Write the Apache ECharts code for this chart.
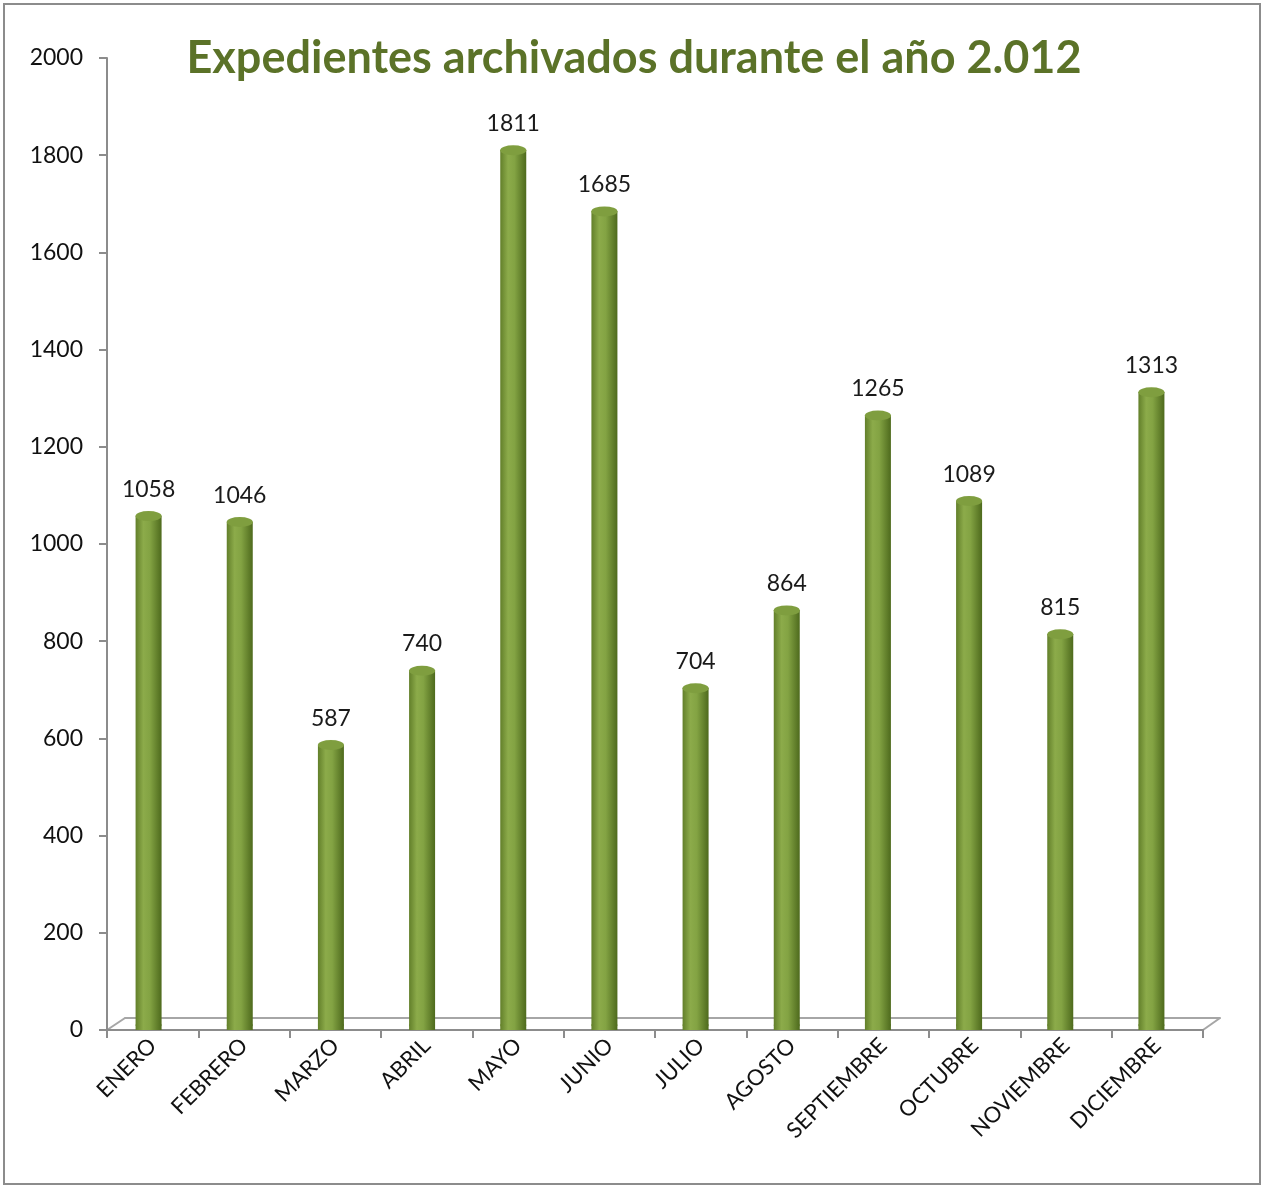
<!DOCTYPE html>
<html>
<head>
<meta charset="utf-8">
<script src="https://cdn.jsdelivr.net/npm/echarts@6/dist/echarts.min.js"></script>
<style>
html,body{margin:0;padding:0;background:#fff;}
#wrap{position:absolute;left:3px;top:3px;width:1254px;height:1178px;border:2px solid #8c8c8c;}
#chart{position:absolute;left:0;top:0;width:1268px;height:1186px;}
</style>
</head>
<body>
<div id="wrap"></div>
<div id="chart"></div>
<script>
const categories = ['ENERO','FEBRERO','MARZO','ABRIL','MAYO','JUNIO','JULIO','AGOSTO','SEPTIEMBRE','OCTUBRE','NOVIEMBRE','DICIEMBRE'];
const values = [1058,1046,587,740,1811,1685,704,864,1265,1089,815,1313];
const titleText = 'Expedientes archivados durante el año 2.012';

const chart = echarts.init(document.getElementById('chart'));
const font = 'Lato, "Open Sans", sans-serif';
const barGrad = new echarts.graphic.LinearGradient(0,0,1,0,[
  {offset:0,color:'#627f2a'},
  {offset:0.3,color:'#8cab4a'},
  {offset:0.55,color:'#83a343'},
  {offset:1,color:'#4e6a1d'}
]);
chart.setOption({
  animation:false,
  backgroundColor:'transparent',
  title:{text:titleText,left:'center',top:31,
    textStyle:{fontFamily:font,fontWeight:'bold',fontSize:45,color:'#5b7228'}},
  grid:[
    {left:107,right:65,top:58,bottom:156},
    {left:125,right:48,top:46,bottom:168},
    {left:103,right:71,top:58,bottom:156}
  ],
  xAxis:[
    {type:'category',data:categories,gridIndex:0,
     axisLine:{lineStyle:{color:'#8c8c8c',width:2}},
     axisTick:{show:true,alignWithLabel:false,length:8,lineStyle:{color:'#8c8c8c',width:2}},
     axisLabel:{rotate:45,interval:0,fontFamily:font,fontSize:22,color:'#111',margin:12}},
    {type:'category',data:categories,gridIndex:1,
     axisLine:{lineStyle:{color:'#a6a6a6',width:2}},
     axisTick:{show:false},axisLabel:{show:false}},
    {type:'category',data:categories,gridIndex:2,show:false}
  ],
  yAxis:[
    {type:'value',min:0,max:2000,interval:200,gridIndex:0,
     axisLine:{show:true,lineStyle:{color:'#8c8c8c',width:2}},
     axisTick:{show:true,length:8,lineStyle:{color:'#8c8c8c',width:2}},
     splitLine:{show:false},
     axisLabel:{fontFamily:font,fontSize:23,color:'#111',margin:24,formatter:v=>String(v)}},
    {type:'value',min:0,max:2000,gridIndex:1,show:false},
    {type:'value',min:0,max:2000,gridIndex:2,show:false}
  ],
  series:[
    {type:'bar',data:values,barWidth:26,xAxisIndex:2,yAxisIndex:2,
     itemStyle:{color:barGrad},
     label:{show:true,position:'top',distance:15,fontFamily:font,fontSize:23,color:'#1a1a1a'},
     z:2},
    {type:'pictorialBar',data:values,symbol:'circle',symbolSize:[26,10],symbolPosition:'end',
     symbolOffset:[0,'-50%'],xAxisIndex:2,yAxisIndex:2,
     itemStyle:{color:'#7f9e3f',borderColor:'#9dbb5c',borderWidth:1},z:3},
    {type:'pictorialBar',data:values,symbol:'circle',symbolSize:[26,8],symbolPosition:'start',
     symbolOffset:[0,'-10%'],xAxisIndex:2,yAxisIndex:2,
     itemStyle:{color:'#6a8a2e'},z:1}
  ]
});

// floor side edges joining the front and back axis lines
const n = categories.length;
function edges(ax){
  const a = chart.convertToPixel({xAxisIndex:ax,yAxisIndex:ax},[0,0]);
  const b = chart.convertToPixel({xAxisIndex:ax,yAxisIndex:ax},[n-1,0]);
  const band = (b[0]-a[0])/(n-1);
  return {l:[a[0]-band/2,a[1]], r:[b[0]+band/2,b[1]]};
}
const f = edges(0), k = edges(1);
chart.setOption({graphic:[
  {type:'line',shape:{x1:f.l[0],y1:f.l[1],x2:k.l[0],y2:k.l[1]},style:{stroke:'#a6a6a6',lineWidth:2},z:0},
  {type:'line',shape:{x1:f.r[0],y1:f.r[1],x2:k.r[0],y2:k.r[1]},style:{stroke:'#a6a6a6',lineWidth:2},z:0}
]});
</script>
</body>
</html>
